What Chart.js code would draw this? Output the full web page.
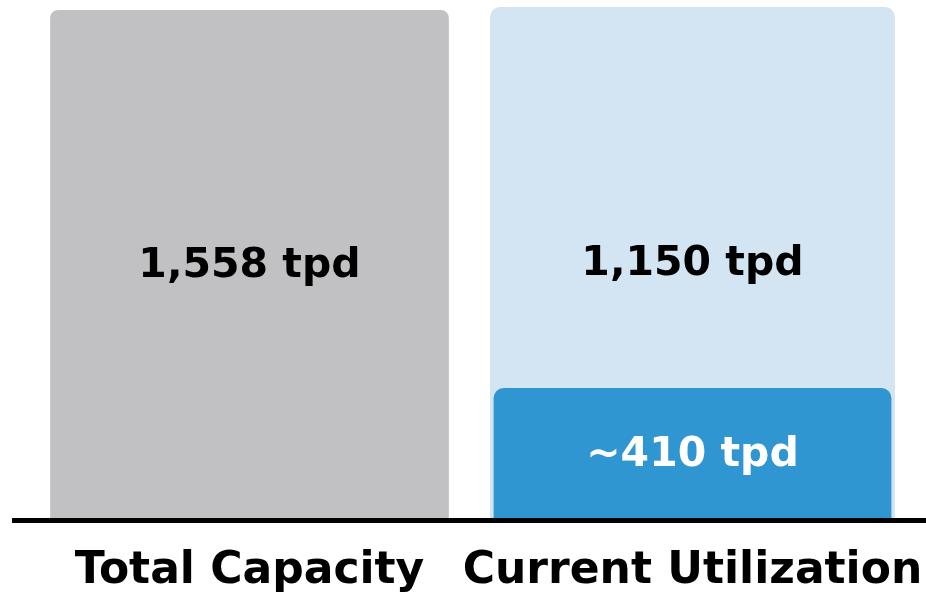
<!DOCTYPE html>
<html>
<head>
<meta charset="utf-8">
<script src="https://cdn.jsdelivr.net/npm/chart.js@4.4.1/dist/chart.umd.min.js"></script>
<style>
  html, body { margin: 0; padding: 0; background: #fff; }
  #wrap { width: 926px; height: 595px; position: relative; }
</style>
</head>
<body>
<div id="wrap"><canvas id="chart"></canvas></div>
<script>
// Values (tons per day). The light band behind the
// current-use bar is drawn a touch taller than the capacity bar in the source.
const categories = ['Total Capacity', 'Current Utilization'];
const capacityTpd = [1558, null];
const utilizationBandTpd = [null, 1567];
const currentUseTpd = [null, 403];

const capacityLabels = ['1,558 tpd', null];
const bandLabels = [null, '1,150 tpd'];
const currentLabels = [null, '~410 tpd'];

const FONT = '"DejaVu Sans", "Open Sans", sans-serif';
const LABEL_SIZE = 41;

// Writes each dataset's text in the middle of its own bar.
const barTextPlugin = {
  id: 'barText',
  afterDatasetsDraw(chart) {
    const { ctx } = chart;
    chart.data.datasets.forEach((ds, di) => {
      const meta = chart.getDatasetMeta(di);
      meta.data.forEach((bar, i) => {
        const text = ds.valueLabels && ds.valueLabels[i];
        if (!text) return;
        const { x, y, base } = bar.getProps(['x', 'y', 'base'], true);
        ctx.save();
        ctx.font = `bold ${LABEL_SIZE}px ${FONT}`;
        ctx.fillStyle = ds.labelColor;
        ctx.textAlign = 'center';
        ctx.textBaseline = 'middle';
        ctx.fillText(text, x, (y + base) / 2 + 1);
        ctx.restore();
      });
    });
  },
};

// Thick black baseline, running a bit past the plot on the left.
const baselinePlugin = {
  id: 'baseline',
  afterDatasetsDraw(chart) {
    const { ctx, chartArea, scales } = chart;
    const py = scales.y.getPixelForValue(0) + 0.5;
    ctx.save();
    ctx.strokeStyle = '#000';
    ctx.lineWidth = 5;
    ctx.beginPath();
    ctx.moveTo(chartArea.left - 16, py);
    ctx.lineTo(chart.width, py);
    ctx.stroke();
    ctx.restore();
  },
};

new Chart(document.getElementById('chart').getContext('2d'), {
  type: 'bar',
  data: {
    labels: categories,
    datasets: [
      {
        label: 'Current use',
        data: currentUseTpd,
        backgroundColor: '#3096d2',
        barPercentage: 0.898,
        borderRadius: 10,
        valueLabels: currentLabels,
        labelColor: '#ffffff',
      },
      {
        label: 'Utilization',
        data: utilizationBandTpd,
        backgroundColor: '#d3e4f2',
        barPercentage: 0.914,
        borderRadius: 10,
        valueLabels: bandLabels,
        labelColor: '#000000',
      },
      {
        label: 'Capacity',
        data: capacityTpd,
        backgroundColor: '#c1c1c3',
        barPercentage: 0.9,
        borderRadius: 8,
        valueLabels: capacityLabels,
        labelColor: '#000000',
      },
    ],
  },
  options: {
    responsive: true,
    maintainAspectRatio: false,
    animation: false,
    layout: { padding: { top: 6, left: 28, right: 12, bottom: 1 } },
    datasets: { bar: { grouped: false, categoryPercentage: 1, skipNull: true } },
    scales: {
      x: {
        grid: { display: false },
        border: { display: false },
        ticks: {
          padding: 17,
          color: '#000',
          autoSkip: false,
          minRotation: 0,
          maxRotation: 0,
          font: { family: FONT, size: 44, weight: 'bold' },
        },
        // fixed axis height; the wide labels may overhang the plot edges
        afterFit(scale) {
          scale.height = 74;
          scale.paddingLeft = 0;
          scale.paddingRight = 0;
        },
      },
      y: { display: false, min: 0, max: 1570 },
    },
    plugins: {
      legend: { display: false },
      tooltip: { enabled: false },
    },
  },
  plugins: [barTextPlugin, baselinePlugin],
});
</script>
</body>
</html>
